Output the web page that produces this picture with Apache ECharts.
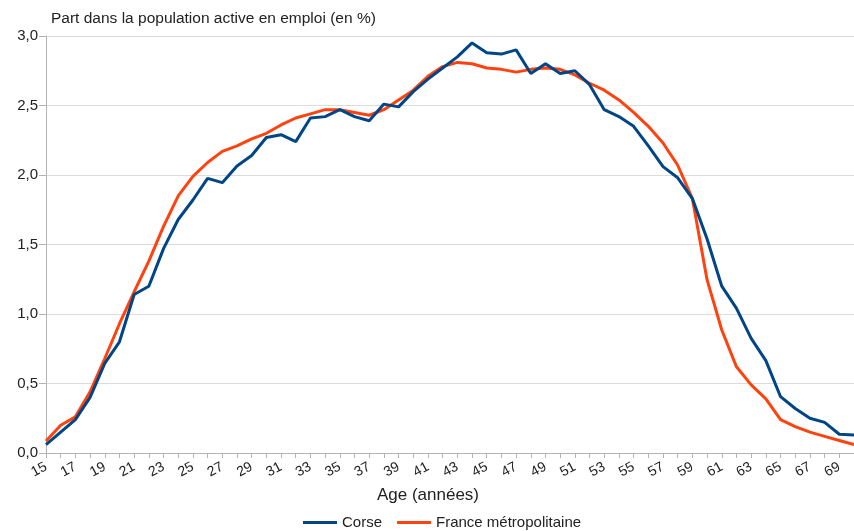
<!DOCTYPE html>
<html>
<head>
<meta charset="utf-8">
<script src="https://cdn.jsdelivr.net/npm/echarts@6/dist/echarts.min.js"></script>
<style>
  html, body { margin: 0; padding: 0; background: #fff; }
  #chart { width: 854px; height: 531px; }
</style>
</head>
<body>
<div id="chart"></div>
<script>
// ages (categories), the last one is cut by the picture edge
var ages = ['15','16','17','18','19','20','21','22','23','24','25','26','27','28','29','30',
    '31','32','33','34','35','36','37','38','39','40','41','42','43','44','45','46','47','48',
    '49','50','51','52','53','54','55','56','57','58','59','60','61','62','63','64','65','66',
    '67','68','69','70'];

var corse = [0.06, 0.15, 0.24, 0.40, 0.645, 0.80, 1.14, 1.20, 1.47, 1.68, 1.82, 1.976, 1.945, 2.065,
    2.14, 2.27, 2.29, 2.24, 2.41, 2.42, 2.47, 2.42, 2.39, 2.51, 2.49, 2.60, 2.69, 2.77, 2.85, 2.95,
    2.88, 2.87, 2.90, 2.73, 2.80, 2.73, 2.75, 2.65, 2.47, 2.42, 2.35, 2.21, 2.06, 1.98, 1.83, 1.54,
    1.20, 1.04, 0.825, 0.665, 0.405, 0.32, 0.25, 0.22, 0.135, 0.13];

var france = [0.086, 0.20, 0.26, 0.44, 0.68, 0.93, 1.16, 1.38, 1.63, 1.85, 1.99, 2.09, 2.17, 2.21,
    2.26, 2.30, 2.36, 2.41, 2.44, 2.47, 2.47, 2.45, 2.43, 2.47, 2.54, 2.61, 2.71, 2.78, 2.81, 2.80,
    2.77, 2.76, 2.74, 2.76, 2.77, 2.76, 2.72, 2.66, 2.61, 2.54, 2.45, 2.35, 2.23, 2.07, 1.83, 1.245,
    0.885, 0.62, 0.49, 0.39, 0.24, 0.19, 0.15, 0.12, 0.09, 0.06];

var seriesNames = ['Corse', 'France métropolitaine'];
var colors = ['#004586', '#ff420e'];

var font = 'Liberation Sans';
var chart = echarts.init(document.getElementById('chart'));

chart.setOption({
    animation: false,
    color: colors,
    title: {
        text: 'Part dans la population active en emploi (en %)',
        left: 51,
        top: 11,
        padding: 0,
        textStyle: { fontFamily: font, fontSize: 15.5, fontWeight: 'normal', color: '#222' }
    },
    legend: {
        data: seriesNames,
        top: 510,
        left: 298,
        icon: 'rect',
        itemWidth: 34,
        itemHeight: 3,
        itemGap: 15,
        textStyle: { fontFamily: font, fontSize: 15, color: '#222' }
    },
    grid: { left: 46, right: -3, top: 36, bottom: 78 },
    xAxis: {
        type: 'category',
        data: ages,
        boundaryGap: false,
        name: 'Age (années)',
        nameLocation: 'middle',
        nameGap: 34,
        nameTextStyle: { fontFamily: font, fontSize: 17, color: '#222', padding: [0, 44, 0, 0] },
        axisLine: { lineStyle: { color: '#b3b3b3' } },
        axisTick: { interval: 0, length: 5, lineStyle: { color: '#b3b3b3' } },
        axisLabel: {
            interval: 1,
            rotate: 28,
            margin: 13,
            fontFamily: font,
            fontSize: 14,
            color: '#222'
        },
        splitLine: { show: false }
    },
    yAxis: {
        type: 'value',
        min: 0,
        max: 3,
        interval: 0.5,
        axisLine: { show: true, lineStyle: { color: '#b3b3b3' } },
        axisTick: { show: true, length: 7, lineStyle: { color: '#b3b3b3' } },
        axisLabel: {
            margin: 8,
            fontFamily: font,
            fontSize: 15,
            color: '#222',
            formatter: function (v) { return v.toFixed(1).replace('.', ','); }
        },
        splitLine: { lineStyle: { color: '#dcdcdc' } }
    },
    series: [
        {
            name: seriesNames[0],
            type: 'line',
            data: corse,
            symbol: 'none',
            lineStyle: { width: 3, color: colors[0] },
            z: 3
        },
        {
            name: seriesNames[1],
            type: 'line',
            data: france,
            symbol: 'none',
            lineStyle: { width: 3, color: colors[1] },
            z: 2
        }
    ]
});
</script>
</body>
</html>
